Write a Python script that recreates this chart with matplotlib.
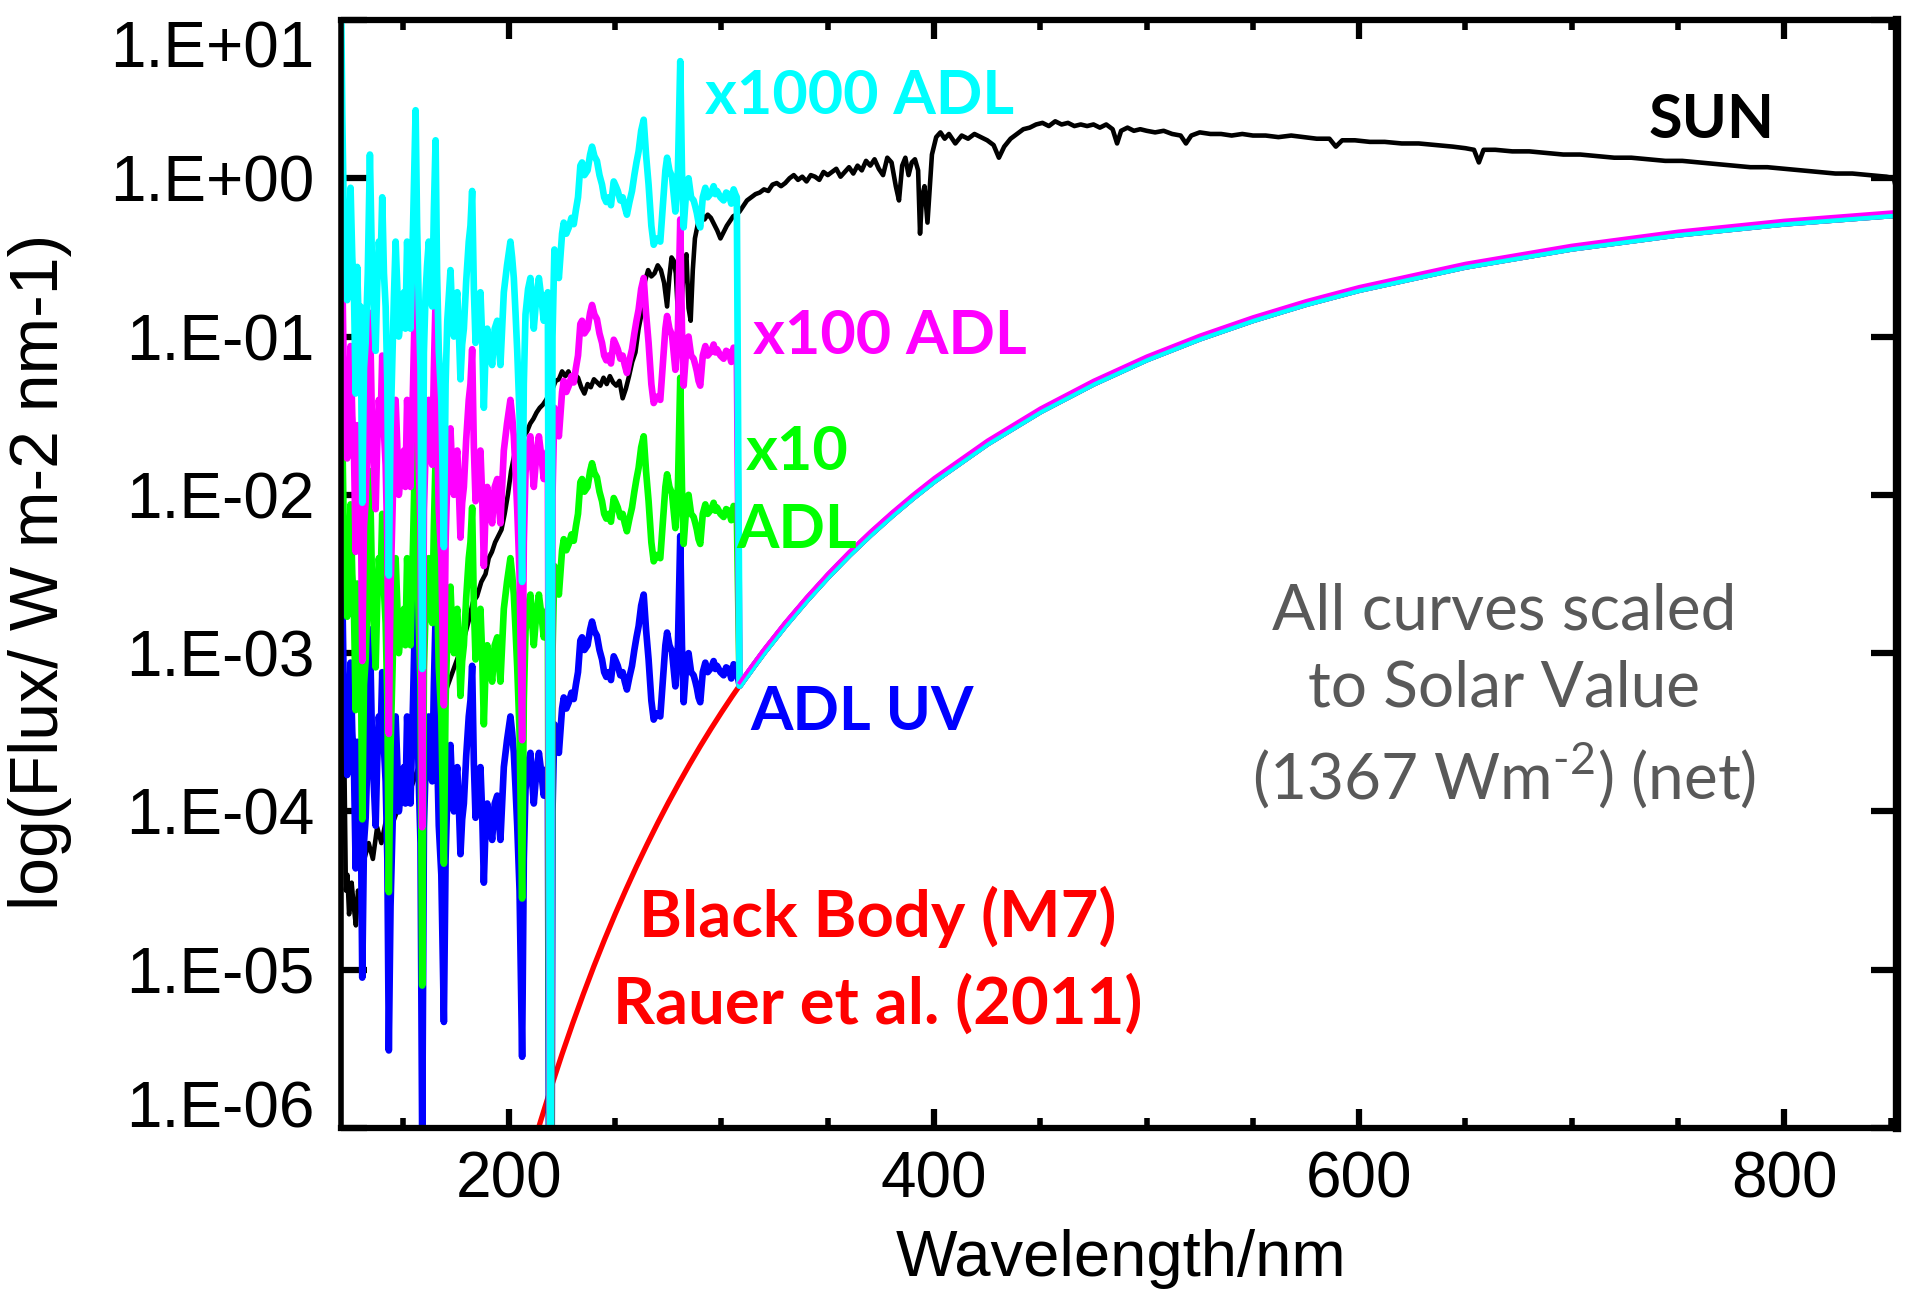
import numpy as np
import matplotlib
matplotlib.use("Agg")
import matplotlib.pyplot as plt
import matplotlib.transforms as mtransforms
from matplotlib.ticker import FixedLocator, FixedFormatter, NullFormatter

W, H = 1907, 1295

# ADL UV spectrum (nm, log10 flux); the x10/x100/x1000
# curves are the same spectrum shifted by one decade each
UV_WL = [
    121.0, 121.6, 122.4, 123.2, 123.9, 124.7, 125.5, 126.3, 127.1, 127.9,
    128.6, 129.4, 130.2, 131.0, 131.8, 132.6, 133.6, 134.6, 135.7, 136.5,
    137.3, 138.0, 138.8, 139.6, 140.4, 141.2, 142.0, 142.8, 143.5, 144.3,
    145.1, 145.9, 146.7, 147.5, 148.2, 149.4, 150.6, 151.3, 152.1, 152.9,
    153.7, 154.9, 156.1, 156.8, 157.6, 158.4, 159.2, 160.0, 160.8, 161.5,
    162.3, 163.1, 163.9, 164.7, 165.5, 166.2, 167.0, 168.2, 169.4, 170.2,
    171.0, 171.7, 172.5, 173.3, 174.1, 174.9, 175.7, 176.4, 177.2, 178.0,
    178.8, 179.9, 181.1, 181.9, 182.7, 183.5, 184.3, 185.4, 186.6, 187.4,
    188.2, 189.0, 189.8, 190.9, 192.1, 193.3, 194.5, 195.2, 196.0, 196.8,
    197.6, 199.1, 200.7, 201.5, 202.3, 203.1, 203.9, 205.0, 206.2, 207.0,
    207.8, 209.0, 210.1, 210.9, 211.7, 212.9, 214.1, 215.2, 216.4, 217.4,
    218.3, 219.5, 220.5, 221.4, 222.4, 223.5, 224.2, 225.0, 225.8, 227.0,
    228.2, 229.4, 230.5, 231.5, 232.5, 233.6, 234.4, 235.5, 237.0, 238.2,
    239.1, 240.2, 241.4, 242.6, 243.8, 244.8, 245.8, 246.9, 248.0, 249.3,
    250.3, 251.2, 252.4, 253.5, 254.5, 255.5, 256.7, 257.9, 259.0, 260.0,
    261.0, 262.2, 263.4, 264.5, 265.7, 267.0, 268.1, 269.5, 271.2, 272.0,
    272.8, 273.6, 274.4, 275.5, 276.7, 277.5, 278.3, 279.5, 280.6, 281.4,
    282.2, 283.3, 284.5, 285.7, 286.9, 287.7, 288.4, 289.2, 290.0, 291.2,
    292.4, 293.5, 294.7, 295.5, 296.3, 297.1, 297.9, 299.5, 301.0, 302.2,
    303.4, 304.6, 305.7, 306.5, 307.2,
]
UV_LOG = [
    -1.80, -2.60, -3.30, -3.40, -3.77, -3.45, -3.06, -3.50, -3.72, -4.36,
    -3.56, -3.95, -3.81, -5.05, -4.20, -4.04, -3.60, -2.85, -3.63, -3.85,
    -4.09, -3.70, -3.40, -3.55, -3.12, -3.60, -3.81, -4.30, -5.51, -4.60,
    -4.18, -3.75, -3.40, -3.70, -4.00, -3.85, -3.72, -3.95, -3.40, -3.70,
    -3.95, -3.30, -2.57, -3.30, -3.81, -4.20, -6.10, -4.10, -3.72, -3.55,
    -3.40, -3.70, -3.81, -3.20, -2.76, -3.60, -4.09, -4.40, -5.33, -4.30,
    -3.90, -3.75, -3.58, -3.85, -4.00, -3.80, -3.72, -3.95, -4.27, -4.05,
    -3.95, -3.65, -3.40, -3.30, -3.08, -3.70, -4.04, -3.85, -3.72, -4.00,
    -4.45, -4.10, -3.95, -4.05, -4.18, -3.95, -3.90, -4.05, -4.18, -3.95,
    -3.72, -3.55, -3.40, -3.50, -3.63, -3.85, -4.09, -4.50, -5.55, -4.30,
    -3.86, -3.70, -3.63, -3.80, -3.95, -3.75, -3.63, -3.75, -3.90, -3.80,
    -3.72, -9.50, -4.00, -3.45, -3.55, -3.63, -3.50, -3.35, -3.28, -3.35,
    -3.31, -3.25, -3.29, -3.20, -3.12, -2.92, -2.90, -2.98, -2.95, -2.85,
    -2.80, -2.86, -2.89, -2.98, -3.04, -3.12, -3.15, -3.12, -3.17, -3.02,
    -3.05, -3.08, -3.14, -3.12, -3.18, -3.23, -3.15, -3.08, -2.98, -2.90,
    -2.83, -2.70, -2.63, -2.85, -3.04, -3.30, -3.42, -3.38, -3.40, -3.25,
    -3.10, -2.95, -2.87, -2.95, -2.99, -3.10, -3.21, -2.95, -2.26, -2.95,
    -3.31, -3.10, -3.00, -3.12, -3.14, -3.18, -3.22, -3.28, -3.31, -3.12,
    -3.06, -3.12, -3.10, -3.08, -3.05, -3.10, -3.08, -3.12, -3.14, -3.09,
    -3.10, -3.16, -3.07, -3.10, -3.12,
]
ADL_SCALES = [1, 10, 100, 1000]

# M7 black body (Rauer et al. 2011), log10 flux
BB_WL = [213, 215, 220, 225, 230, 235, 240, 245, 250, 255, 260, 265, 270, 275,
         280, 285, 290, 295, 300, 305, 308.5, 310, 315, 320, 330, 340, 350,
         360, 370, 380, 390, 400, 425, 450, 475, 500, 525, 550, 575, 600, 650,
         700, 750, 800, 853]
BB_LOG = [-6.041, -5.952, -5.737, -5.533, -5.339, -5.154, -4.977, -4.809,
          -4.648, -4.495, -4.348, -4.208, -4.073, -3.944, -3.821, -3.702,
          -3.588, -3.479, -3.374, -3.273, -3.205, -3.176, -3.083, -2.992,
          -2.822, -2.664, -2.516, -2.378, -2.250, -2.130, -2.017, -1.911,
          -1.675, -1.471, -1.296, -1.143, -1.011, -0.895, -0.793, -0.704,
          -0.557, -0.443, -0.354, -0.285, -0.230]
TAIL_START = 308.5

# solar spectrum, log10 flux
SUN_WL = [
    121.0, 121.8, 122.6, 123.3, 124.0, 124.8, 126.0, 127.0, 128.0, 129.0,
    130.5, 132.0, 134.0, 136.0, 138.0, 140.0, 143.0, 146.0, 150.0, 154.0,
    158.0, 162.0, 166.0, 170.0, 174.0, 178.0, 181.0, 183.0, 185.0, 187.0,
    189.0, 190.5, 192.0, 193.5, 195.0, 196.5, 198.0, 199.5, 201.0, 202.5,
    204.0, 205.5, 207.0, 208.5, 210.0, 211.5, 213.0, 214.5, 216.0, 217.5,
    219.0, 220.5, 222.0, 223.5, 225.0, 226.5, 228.0, 229.5, 231.0, 232.5,
    234.0, 235.5, 237.0, 238.5, 240.0, 241.5, 243.0, 244.5, 246.0, 247.5,
    249.0, 250.5, 252.0, 253.5, 255.0, 256.5, 258.0, 259.5, 261.0, 262.5,
    264.0, 265.5, 267.0, 268.5, 270.0, 271.5, 273.0, 274.4, 275.5, 276.5,
    277.5, 278.5, 279.5, 280.5, 281.5, 282.5, 283.5, 284.5, 285.5, 286.5,
    287.5, 289.0, 290.5, 292.0, 293.5, 295.0, 296.5, 298.0, 299.5, 301.0,
    302.5, 304.0, 305.5, 307.0, 308.5, 310.0, 312.0, 314.0, 316.0, 318.0,
    320.0, 322.0, 324.0, 326.0, 328.0, 330.0, 332.0, 334.0, 336.0, 338.0,
    340.0, 342.0, 344.0, 346.0, 348.0, 350.0, 352.0, 354.0, 356.0, 358.0,
    360.0, 362.0, 364.0, 366.0, 368.0, 370.0, 372.0, 374.0, 376.0, 378.0,
    380.0, 382.0, 383.5, 385.0, 386.5, 388.0, 389.5, 391.0, 392.5, 393.4,
    394.3, 395.5, 396.9, 397.8, 399.0, 401.0, 403.0, 405.0, 407.0, 410.0,
    413.0, 416.0, 419.0, 422.0, 425.0, 428.0, 430.5, 433.0, 436.0, 439.0,
    442.0, 445.0, 448.0, 451.0, 454.0, 457.0, 460.0, 463.0, 466.0, 469.0,
    472.0, 475.0, 478.0, 481.0, 484.0, 486.1, 488.0, 491.0, 494.0, 497.0,
    500.0, 504.0, 508.0, 512.0, 516.0, 518.5, 521.0, 525.0, 530.0, 535.0,
    540.0, 545.0, 550.0, 556.0, 562.0, 568.0, 574.0, 580.0, 586.0, 589.0,
    592.0, 598.0, 605.0, 612.0, 620.0, 628.0, 636.0, 644.0, 650.0, 654.0,
    656.3, 658.5, 664.0, 672.0, 680.0, 688.0, 696.0, 704.0, 712.0, 720.0,
    728.0, 736.0, 744.0, 752.0, 760.0, 768.0, 776.0, 784.0, 792.0, 800.0,
    808.0, 816.0, 824.0, 832.0, 840.0, 848.0, 851.5, 852.5,
]
SUN_LOG = [
    -2.90, -3.20, -3.70, -4.50, -4.40, -4.65, -4.45, -4.60, -4.72, -4.50,
    -4.60, -4.30, -4.20, -4.30, -4.10, -4.20, -4.00, -4.05, -3.90, -3.85,
    -3.70, -3.55, -3.40, -3.25, -3.10, -2.95, -2.80, -2.68, -2.64, -2.55,
    -2.50, -2.40, -2.36, -2.30, -2.26, -2.22, -2.12, -2.00, -1.85, -1.75,
    -1.72, -1.68, -1.63, -1.60, -1.55, -1.52, -1.48, -1.45, -1.43, -1.40,
    -1.36, -1.33, -1.28, -1.27, -1.22, -1.25, -1.22, -1.28, -1.24, -1.26,
    -1.32, -1.36, -1.30, -1.32, -1.27, -1.29, -1.31, -1.26, -1.30, -1.25,
    -1.29, -1.31, -1.28, -1.39, -1.33, -1.25, -1.16, -1.10, -0.95, -0.85,
    -0.65, -0.58, -0.62, -0.60, -0.55, -0.58, -0.66, -0.81, -0.62, -0.50,
    -0.52, -0.60, -0.85, -0.92, -0.72, -0.55, -0.48, -0.82, -0.90, -0.58,
    -0.38, -0.28, -0.22, -0.26, -0.23, -0.25, -0.29, -0.33, -0.38, -0.34,
    -0.30, -0.27, -0.24, -0.23, -0.21, -0.18, -0.14, -0.12, -0.10, -0.09,
    -0.07, -0.08, -0.04, -0.03, -0.05, -0.03, 0.00, 0.02, -0.01, 0.01,
    -0.02, 0.02, 0.01, -0.01, 0.04, 0.02, 0.04, 0.06, 0.01, 0.04,
    0.07, 0.03, 0.08, 0.05, 0.11, 0.08, 0.12, 0.06, 0.02, 0.13,
    0.10, -0.05, -0.14, 0.08, 0.13, 0.02, 0.10, 0.12, 0.05, -0.35,
    -0.12, -0.05, -0.28, -0.10, 0.15, 0.26, 0.29, 0.25, 0.28, 0.22,
    0.27, 0.25, 0.28, 0.26, 0.24, 0.21, 0.13, 0.20, 0.25, 0.28,
    0.31, 0.32, 0.34, 0.35, 0.33, 0.36, 0.34, 0.35, 0.33, 0.34,
    0.33, 0.34, 0.32, 0.34, 0.31, 0.22, 0.30, 0.32, 0.30, 0.31,
    0.30, 0.29, 0.30, 0.28, 0.27, 0.22, 0.27, 0.29, 0.28, 0.28,
    0.27, 0.28, 0.27, 0.27, 0.26, 0.27, 0.26, 0.25, 0.25, 0.20,
    0.24, 0.24, 0.23, 0.23, 0.22, 0.22, 0.21, 0.20, 0.19, 0.18,
    0.10, 0.18, 0.18, 0.17, 0.17, 0.16, 0.15, 0.15, 0.14, 0.13,
    0.13, 0.12, 0.11, 0.11, 0.10, 0.09, 0.08, 0.07, 0.07, 0.06,
    0.05, 0.04, 0.03, 0.03, 0.02, 0.01, 0.00, -0.06,
]

YTICKS = [1e-6, 1e-5, 1e-4, 1e-3, 1e-2, 1e-1, 1e0, 1e1]
YTICK_LABELS = ["1.E-06", "1.E-05", "1.E-04", "1.E-03", "1.E-02", "1.E-01",
                "1.E+00", "1.E+01"]
XTICKS = [200, 400, 600, 800]
XTICK_LABELS = ["200", "400", "600", "800"]
XMINOR = [150, 250, 300, 350, 450, 500, 550, 650, 700, 750, 850]

ADL_COLORS = ["#0000ff", "#00ff00", "#ff00ff", "#00ffff"]
TICK_FONT = ["Liberation Sans", "DejaVu Sans"]
LABEL_FONT = ["Lato", "DejaVu Sans"]

plt.rcParams["mathtext.fontset"] = "custom"
plt.rcParams["mathtext.rm"] = "Lato"


def adl_series(scale):
    tail = [(w, v) for w, v in zip(BB_WL, BB_LOG) if w >= TAIL_START]
    wl = list(UV_WL) + [w for w, _ in tail]
    flux = [scale * 10 ** v for v in UV_LOG] + [10 ** v for _, v in tail]
    return np.array(wl), np.array(flux)


def fig_xy(x, y):
    return x / W, 1 - y / H


fig = plt.figure(figsize=(W / 100, H / 100), dpi=100)
ax = fig.add_axes([341 / W, 1 - 1128 / H, (1897 - 341) / W, (1128 - 20) / H])

ax.plot(BB_WL, np.power(10.0, BB_LOG), color="#ff0000", lw=3.8)
ax.plot(SUN_WL, np.power(10.0, SUN_LOG), color="black", lw=3.3)

for scale, color in zip(ADL_SCALES, ADL_COLORS):
    wl, flux = adl_series(scale)
    ax.plot(wl, flux, color=color, lw=4.8)

# magenta sits just above the cyan along the black-body tail
wl, flux = adl_series(100)
tail = wl >= TAIL_START
lift = mtransforms.offset_copy(ax.transData, fig=fig, x=0, y=3, units="dots")
ax.plot(wl[tail], flux[tail], color="#ff00ff", lw=2.6, transform=lift)

ax.set_yscale("log")
ax.set_xlim(121, 853)
ax.set_ylim(1e-6, 10)

ax.yaxis.set_major_locator(FixedLocator(YTICKS))
ax.yaxis.set_major_formatter(FixedFormatter(YTICK_LABELS))
ax.yaxis.set_minor_locator(FixedLocator([]))
ax.yaxis.set_minor_formatter(NullFormatter())
ax.xaxis.set_major_locator(FixedLocator(XTICKS))
ax.xaxis.set_major_formatter(FixedFormatter(XTICK_LABELS))
ax.xaxis.set_minor_locator(FixedLocator(XMINOR))

ax.tick_params(axis="both", which="both", direction="in", top=True, right=True,
               colors="black")
ax.tick_params(axis="x", which="major", length=14, width=4.5, pad=16)
ax.tick_params(axis="x", which="minor", length=7, width=4.0)
ax.tick_params(axis="y", which="major", length=19, width=4.5, pad=19)

for lab in ax.get_xticklabels() + ax.get_yticklabels():
    lab.set_fontfamily(TICK_FONT)
    lab.set_fontsize(46)

yt = ax.yaxis.get_major_ticks()
yt[0].label1.set_va("baseline")
yt[-1].label1.set_va("top")

for side, lw in [("left", 4.0), ("bottom", 4.5), ("top", 4.5), ("right", 6.0)]:
    ax.spines[side].set_linewidth(lw)

fig.text(*fig_xy(40, 572), "log(Flux/ W m-2 nm-1)", rotation=90,
         ha="center", va="center", fontsize=49, family=TICK_FONT)
fig.text(*fig_xy(1121, 1276), "Wavelength/nm", ha="center", va="baseline",
         fontsize=47, family=TICK_FONT)

label_kw = dict(ha="center", va="center", fontweight="bold",
                family=LABEL_FONT, linespacing=1.5)
fig.text(*fig_xy(860, 96), "x1000 ADL", color="#00ffff", fontsize=44, **label_kw)
fig.text(*fig_xy(1712, 120), "SUN", color="black", fontsize=44, **label_kw)
fig.text(*fig_xy(890, 336), "x100 ADL", color="#ff00ff", fontsize=44, **label_kw)
fig.text(*fig_xy(797, 491), "x10\nADL", color="#00ff00", fontsize=44, **label_kw)
fig.text(*fig_xy(862, 712), "ADL UV", color="#0000ff", fontsize=44, **label_kw)
fig.text(*fig_xy(878, 960), "Black Body (M7)\nRauer et al. (2011)",
         color="#ff0000", fontsize=47, **label_kw)

fig.text(*fig_xy(1504, 697),
         "All curves scaled\nto Solar Value\n(1367 Wm$^{\\text{-2}}$) (net)",
         ha="center", va="center", fontsize=46, color="#595959",
         family=LABEL_FONT, linespacing=1.4)

fig.savefig("out.png", dpi=100)
